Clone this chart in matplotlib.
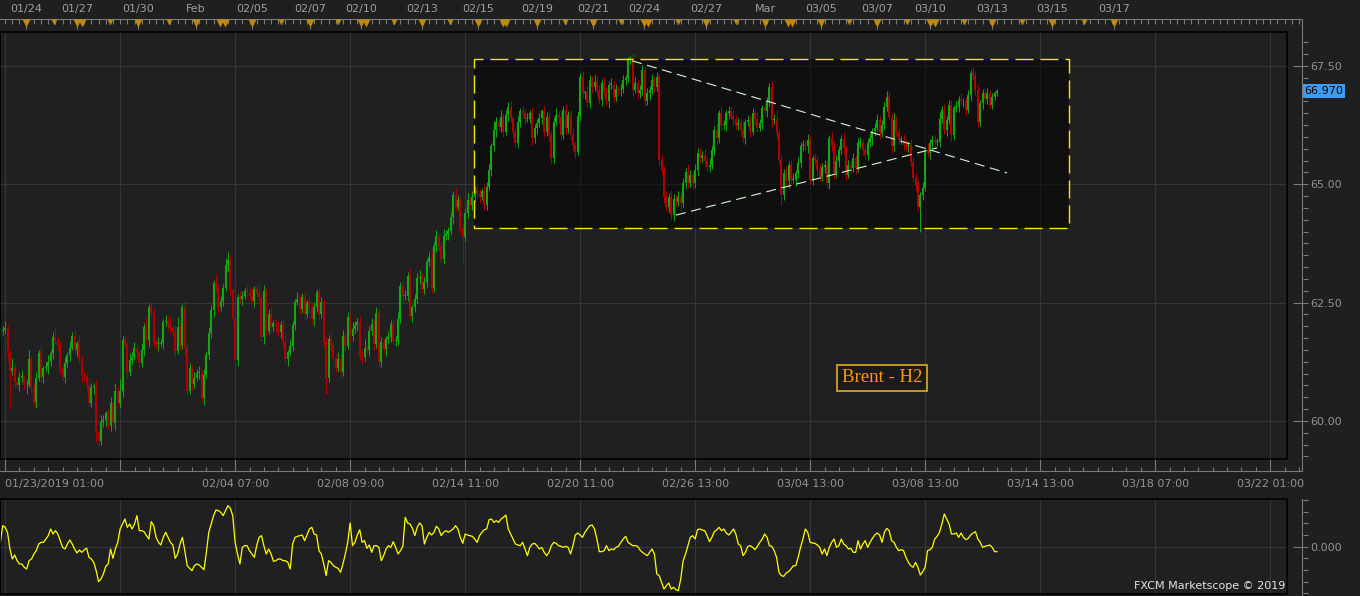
import numpy as np
import matplotlib
matplotlib.use('Agg')
import matplotlib.pyplot as plt
import matplotlib.transforms as mtransforms
from matplotlib.patches import Rectangle
from matplotlib.lines import Line2D
from matplotlib.ticker import MultipleLocator, FixedLocator

# Brent H2 candles (open = previous close)
first_open = 61.70
closes = [
    61.80, 61.91, 61.92, 61.96, 61.41, 61.06, 61.13, 60.82, 60.77, 60.92,
    60.94, 60.75, 60.77, 61.31, 60.71, 60.41, 60.91, 61.43, 60.92, 61.12,
    61.15, 61.25, 61.43, 61.78, 61.70, 61.59, 61.13, 60.92, 61.22, 61.40,
    61.55, 61.80, 61.49, 61.64, 61.31, 60.96, 60.94, 60.77, 60.39, 60.72,
    60.74, 59.76, 59.58, 59.97, 60.02, 60.16, 59.90, 60.37, 59.95, 60.63,
    60.37, 60.63, 61.71, 61.61, 61.03, 61.29, 61.36, 61.55, 61.43, 61.22,
    61.50, 61.99, 61.71, 62.41, 62.29, 61.64, 61.63, 61.63, 61.64, 62.10,
    62.12, 62.05, 61.96, 61.89, 61.47, 61.99, 61.61, 62.40, 61.54, 60.64,
    61.13, 60.79, 60.91, 61.01, 61.01, 60.49, 60.98, 61.40, 61.85, 62.34,
    62.91, 62.81, 62.41, 62.53, 62.82, 63.30, 63.40, 62.77, 62.18, 61.29,
    62.61, 62.58, 62.65, 62.75, 62.72, 62.65, 62.54, 62.79, 62.70, 62.61,
    61.78, 62.75, 61.91, 62.26, 61.99, 62.06, 61.98, 61.87, 62.03, 61.66,
    61.31, 61.45, 61.59, 62.03, 62.51, 62.58, 62.37, 62.63, 62.26, 62.51,
    62.40, 62.15, 62.40, 62.72, 62.26, 62.51, 61.66, 60.91, 61.73, 61.59,
    61.34, 61.13, 61.31, 61.03, 61.80, 61.59, 62.19, 61.80, 61.94, 62.03,
    62.10, 61.38, 61.36, 61.55, 61.49, 61.91, 62.05, 61.63, 62.29, 61.24,
    61.66, 61.52, 61.73, 61.77, 62.05, 61.70, 61.70, 62.15, 62.86, 62.65,
    62.65, 63.07, 62.22, 62.40, 62.58, 63.03, 63.05, 62.79, 62.93, 63.35,
    63.46, 62.82, 63.70, 63.91, 63.70, 63.42, 63.91, 63.95, 64.02,
    64.30, 64.77, 64.53, 64.67, 64.07, 63.89, 64.39, 64.67, 64.56, 64.74,
    64.88, 64.81, 64.74, 64.85, 64.56, 64.95, 65.30, 65.80, 66.15, 66.32,
    66.22, 66.43, 66.11, 66.47, 66.64, 66.40, 66.11, 65.87, 66.32, 66.54,
    66.50, 66.39, 66.39, 66.50, 65.97, 66.18, 66.29, 66.40, 66.54, 66.11,
    66.43, 66.04, 65.55, 66.32, 66.47, 66.43, 66.04, 66.57, 66.18, 66.47,
    66.04, 65.83, 65.69, 66.44, 67.27, 66.92, 66.92, 66.71, 67.20, 67.06,
    67.17, 66.99, 66.78, 67.15, 66.95, 66.75, 67.10, 67.10, 66.85, 67.01,
    66.99, 67.01, 67.20, 67.24, 67.63, 67.66, 66.99, 67.13, 66.92, 66.99,
    67.42, 66.75, 66.92, 66.99, 67.20, 67.05, 67.27, 65.51, 65.30, 64.74,
    64.53, 64.74, 64.35, 64.70, 64.63,
    64.74, 64.60, 65.02, 65.27, 65.02, 65.20, 65.02, 65.30, 65.67, 65.55,
    65.62, 65.50, 65.37, 65.41, 65.73, 66.15, 65.97, 66.50, 66.25, 66.25,
    66.50, 66.54, 66.45, 66.39, 66.25, 66.29, 66.15, 65.97, 66.32, 66.36,
    66.11, 66.50, 66.39, 66.20, 66.29, 66.61, 66.54, 66.75, 67.06, 66.36,
    66.39, 66.08, 65.51, 64.77, 65.23, 65.06, 65.41, 65.09, 65.09, 65.23,
    65.45, 65.80, 65.83, 65.80, 65.94, 65.09, 65.55, 65.51, 65.30, 65.16,
    65.37, 65.41, 65.02, 65.97, 65.80, 65.23, 65.50, 65.73, 65.95, 65.76,
    65.20, 65.41, 65.34, 65.55, 65.34, 65.87, 65.87, 65.73, 65.62, 65.87,
    65.97, 66.13, 66.20, 66.36, 66.08, 66.25, 66.64, 66.85, 66.43, 65.80,
    66.36, 66.11, 65.94,
    65.94, 65.83, 65.80, 65.83, 65.48, 65.13, 64.99, 64.53, 64.77, 64.92,
    65.73, 65.67, 65.87, 65.94, 65.90, 65.90, 66.39, 66.57, 66.15, 66.36,
    66.68, 66.04, 66.61, 66.64, 66.78, 66.75, 66.75, 66.57, 66.89, 67.35,
    67.31, 66.99, 66.32, 66.71, 66.92, 66.80, 66.92, 66.68, 66.85, 66.92,
    66.97,
]

# wick lengths above / below the body, in cents
wick_up = [
    10, 12, 8, 15, 6, 10, 20, 8, 5, 12, 14, 6, 9, 18, 7, 10, 12, 8, 16, 5,
    9, 14, 7, 11, 20, 6, 10, 8, 13, 5, 15, 9, 12, 6, 18, 8, 10, 7, 14, 9,
    6, 12, 8, 15, 10, 5, 9, 13, 7, 18, 11, 25, 8, 10, 6, 14, 9, 12, 7, 10,
    15, 8, 20, 6, 12, 9, 7, 14, 10, 5, 11, 8, 16, 6, 12, 20, 9, 7, 13, 8,
    10, 6, 12, 9, 15, 7, 11, 8, 14, 10, 6, 20, 9, 12, 8, 15, 16, 10, 7, 12,
    8, 14, 10, 6, 12, 9, 15, 7, 11, 20, 8, 12, 6, 10, 14, 7, 9, 13, 8, 10,
    18, 6, 12, 9, 7, 14, 10, 8, 12, 5, 16, 9, 11, 7, 13, 10, 6, 12, 8, 15,
    9, 7, 14, 10, 12, 6, 11, 8, 15, 9, 7, 12, 10, 18, 6, 9, 13, 8, 11, 7,
    12, 10, 6, 14, 8, 11, 9, 15, 7, 10, 12, 8, 16, 6, 10, 9, 13, 7, 12, 8,
    10, 15, 8, 12, 6, 10, 14, 9, 7, 12, 8, 15, 10, 6, 12, 9, 14, 7, 11, 8,
    13, 10, 7, 15, 9, 12, 8, 18, 10, 6, 14, 8, 11, 9, 12, 7, 10, 13, 8, 11,
    9, 12, 7, 14, 10, 8, 11, 6, 13, 9, 12, 8, 10, 15, 7, 11, 9, 12, 8, 10,
    14, 8, 11, 9, 12, 7, 15, 10, 8, 13, 9, 11, 7, 12, 10, 8, 14, 9, 11, 7,
    10, 12, 8, 6, 5, 9, 14, 8, 11, 10, 7, 12, 9, 13, 8, 10, 6, 11, 9, 12,
    8, 14, 10, 7, 12, 9, 11, 8, 15, 10, 7, 13, 9, 11, 8, 12, 10, 14, 7, 9,
    12, 8, 15, 10, 7, 11, 9, 13, 8, 12, 10, 18, 7, 11, 9, 12, 8, 14, 10, 7,
    11, 9, 8, 12, 10, 15, 7, 11, 9, 13, 8, 10, 14, 7, 12, 9, 11, 8, 13, 10,
    7, 12, 9, 14, 8, 11, 10, 7, 13, 9, 12, 8, 10, 15, 7, 11, 9, 12, 8, 10,
    14, 8, 11, 9, 12, 7, 10, 13, 8, 11, 9, 12, 10, 7, 14, 8, 11, 9, 12, 10,
    8, 13, 9, 11, 10, 7, 12, 9, 14, 8, 11, 10, 7, 13, 9, 12, 8, 10, 11, 7,
    12, 9, 14, 8, 10, 11, 7, 13, 9, 12, 8, 10, 9, 11, 7, 8, 6, 5,
]
wick_dn = [
    12, 8, 10, 6, 15, 80, 9, 12, 7, 14, 10, 8, 18, 6, 11, 9, 13, 7, 10, 12,
    8, 15, 9, 12, 7, 10, 14, 8, 11, 9, 13, 6, 10, 12, 8, 16, 9, 11, 7, 10,
    14, 20, 12, 8, 10, 13, 7, 11, 9, 15, 8, 10, 12, 6, 14, 9, 11, 8, 13, 10,
    7, 12, 9, 14, 10, 8, 11, 15, 7, 12, 9, 10, 13, 8, 11, 6, 14, 9, 12, 10,
    8, 13, 10, 7, 12, 9, 15, 8, 11, 10, 14, 7, 12, 9, 10, 8, 13, 11, 7, 10,
    12, 9, 14, 8, 11, 10, 7, 13, 9, 12, 8, 15, 10, 7, 11, 9, 13, 8, 12, 10,
    9, 14, 8, 11, 10, 7, 12, 9, 13, 8, 11, 10, 15, 7, 12, 9, 10, 34, 8, 11,
    10, 12, 8, 14, 9, 11, 7, 13, 10, 8, 12, 9, 15, 10, 7, 11, 9, 13, 8, 12,
    10, 8, 14, 9, 11, 7, 12, 10, 8, 13, 9, 11, 7, 12, 10, 8, 14, 9, 11, 10,
    8, 12, 9, 13, 10, 7, 11, 9, 12, 8, 14, 10, 7, 12, 55, 9, 11, 8, 10, 12,
    9, 13, 8, 11, 10, 7, 12, 9, 14, 8, 11, 10, 7, 13, 9, 12, 8, 10, 11, 9,
    12, 8, 10, 14, 9, 11, 7, 13, 10, 8, 12, 9, 11, 7, 14, 10, 8, 12, 9, 11,
    10, 13, 8, 11, 9, 12, 7, 10, 14, 8, 11, 9, 12, 10, 7, 13, 9, 11, 8, 10,
    12, 9, 11, 8, 10, 13, 7, 12, 9, 11, 10, 8, 14, 9, 11, 7, 12, 10, 13, 9,
    11, 8, 12, 10, 9, 14, 7, 11, 10, 8, 12, 9, 13, 10, 7, 11, 9, 12, 8, 10,
    13, 9, 11, 8, 12, 10, 7, 14, 9, 11, 10, 8, 12, 9, 11, 7, 13, 10, 8, 12,
    9, 11, 10, 14, 8, 12, 9, 20, 11, 8, 13, 10, 7, 12, 9, 11, 10, 8, 14, 9,
    11, 8, 12, 10, 9, 13, 7, 11, 10, 12, 8, 14, 9, 11, 10, 7, 12, 9, 13, 8,
    10, 12, 9, 11, 8, 14, 10, 7, 12, 9, 11, 10, 8, 13, 9, 12, 10, 8, 11, 9,
    12, 10, 8, 13, 10, 53, 11, 7, 10, 14, 8, 12, 9, 11, 10, 8, 13, 9, 12, 10,
    9, 11, 8, 12, 10, 7, 13, 9, 11, 10, 8, 12, 9, 10, 7, 8, 6, 5,
]

# lower panel oscillator
osc = [
    0.13, 0.13, 0.63, 0.58, 0.43, -0.07, -0.37, -0.25, -0.42, -0.52,
    -0.52, -0.62, -0.67, -0.42, -0.37, -0.22, -0.12, 0.08, 0.13, 0.13,
    0.23, 0.33, 0.53, 0.38, 0.48, 0.38, 0.18, -0.02, -0.07, 0.08,
    0.20, 0.08, -0.07, -0.19, -0.10, -0.17, -0.10, -0.04, -0.32, -0.37,
    -0.47, -0.72, -1.05, -0.97, -0.82, -0.59, -0.52, -0.07, -0.35, -0.07,
    0.13, 0.53, 0.68, 0.83, 0.58, 0.68, 0.53, 0.68, 0.93, 0.48,
    0.48, 0.45, 0.33, 0.23, 0.75, 0.63, 0.28, 0.13, 0.05, 0.28,
    0.43, 0.28, 0.13, 0.05, -0.35, -0.22, 0.08, 0.28, -0.12, -0.57,
    -0.65, -0.72, -0.57, -0.52, -0.55, -0.62, -0.69, -0.17, 0.43, 0.68,
    0.93, 1.10, 1.08, 1.03, 0.93, 1.08, 1.23, 1.15, 0.93, 0.13,
    -0.22, -0.52, -0.02, 0.03, 0.03, -0.12, -0.22, -0.32, 0.03, 0.28,
    0.33, 0.03, -0.22, -0.07, -0.22, -0.44, -0.42, -0.37, -0.37, -0.42,
    -0.42, -0.47, -0.67, 0.08, 0.28, 0.31, 0.33, 0.35, 0.18, 0.35,
    0.53, 0.58, 0.38, 0.35, -0.12, -0.22, -0.52, -0.87, -0.42, -0.47,
    -0.57, -0.62, -0.65, -0.77, -0.52, -0.22, 0.13, 0.71, 0.03, 0.13,
    0.35, 0.51, 0.13, 0.18, -0.05, 0.05, -0.17, 0.03, 0.03, -0.02,
    -0.42, -0.27, -0.07, 0.03, -0.02, 0.15, -0.02, -0.22, -0.12, 0.01,
    0.88, 0.71, 0.68, 0.55, 0.33, 0.58, 0.71, 0.63, 0.08, 0.28,
    0.43, 0.35, 0.43, 0.61, 0.53, 0.33, 0.43, 0.48, 0.43, 0.48,
    0.53, 0.63, 0.53, 0.28, 0.10, 0.38, 0.35, 0.33, 0.31, 0.23,
    0.13, 0.33, 0.43, 0.51, 0.53, 0.81, 0.83, 0.73,
    0.78, 0.73, 0.83, 0.88, 0.95, 0.53, 0.38, 0.23, 0.08, 0.05,
    0.03, 0.13, -0.07, -0.27, -0.02, 0.08, 0.10, 0.03, -0.07, -0.02,
    -0.17, -0.27, -0.17, 0.03, 0.13, 0.10, 0.03, 0.01, -0.02, 0.01,
    -0.02, -0.22, 0.03, 0.35, 0.41, 0.35, 0.28, 0.43, 0.53, 0.63,
    0.65, 0.53, 0.23, -0.15, -0.15, -0.12, 0.03, -0.12, -0.07, -0.09,
    -0.02, 0.01, 0.13, 0.23, 0.31, 0.13, 0.08, 0.03, 0.03, 0.01,
    -0.10, -0.17, -0.22, -0.27, -0.17, -0.07, -0.22, -0.82, -0.87, -1.07,
    -1.27, -1.17, -1.09, -1.27, -1.22, -1.29, -1.32, -0.97, -0.42, -0.22,
    0.03, 0.28, 0.33, 0.23, 0.51, 0.53, 0.50, 0.48, 0.33, 0.15,
    0.28, 0.45, 0.50, 0.58, 0.48, 0.53, 0.41, 0.35, 0.43, 0.53,
    0.38, 0.08, 0.03, -0.27, -0.17, 0.01, 0.03, -0.02, -0.09, 0.01,
    0.13, 0.23, 0.38, 0.28, 0.03, 0.01, -0.12, -0.32, -0.77, -0.87,
    -0.89, -0.79, -0.75, -0.67, -0.57, -0.57, -0.32, -0.02, 0.23, 0.53,
    0.43, 0.13, 0.11, 0.10, 0.05, -0.02, -0.22, -0.07, -0.27, -0.02,
    0.13, 0.23, -0.02, 0.03, 0.23, 0.08, 0.03, -0.07, -0.05, -0.17,
    -0.17, 0.18, -0.07, 0.08, 0.18, -0.02, 0.13, 0.25, 0.35, 0.41,
    0.35, 0.13, 0.43, 0.55, 0.48, 0.18, 0.13, -0.02, -0.12, -0.09,
    -0.12, -0.32, -0.47, -0.57, -0.62, -0.47, -0.62, -0.85, -0.75, -0.62,
    -0.12, -0.09, -0.02, 0.23, 0.31, 0.43, 0.68, 0.98, 0.83, 0.68,
    0.38, 0.38, 0.41, 0.28, 0.41, 0.28, 0.21, 0.25, 0.35, 0.41,
    0.45, 0.23, 0.13, -0.02, 0.01, 0.03, 0.05, -0.02, -0.15, -0.15,
]

# axis labels
bottom_labels = ['01/23/2019 01:00', '', '02/04 07:00', '02/08 09:00', '02/14 11:00',
                 '02/20 11:00', '02/26 13:00', '03/04 13:00', '03/08 13:00',
                 '03/14 13:00', '03/18 07:00', '03/22 01:00']
top_labels = ['01/24', '01/27', '01/30', 'Feb', '02/05', '02/07', '02/10', '02/13',
              '02/15', '02/19', '02/21', '02/24', '02/27', 'Mar', '03/05', '03/07',
              '03/10', '03/13', '03/15', '03/17']
top_label_bars = [11.8, 33.0, 58.5, 82.7, 106.1, 130.3, 151.6, 177.0, 200.4, 225.0,
                  248.4, 269.7, 295.6, 320.2, 343.6, 366.9, 389.1, 414.9, 440.0, 465.8]
big_marks = [11.8, 33.0, 35.1, 58.5, 82.7, 92.7, 94.8, 106.1, 130.3, 151.6, 153.7,
             177.0, 200.4, 210.8, 212.1, 225.0, 248.4, 269.7, 271.4, 295.6, 320.2,
             329.8, 331.5, 343.6, 366.9, 389.1, 391.1, 414.9, 440.0, 465.8]
small_marks = [23.4, 46.8, 71.4, 118.2, 142.0, 165.3, 188.7, 236.7, 260.1, 283.9,
               308.1, 355.3, 379.5, 403.2, 427.4, 453.3]

# drawn objects: rectangle zone and triangle lines (bar index, price)
zone = (198.7, 447.1, 64.08, 67.65)
upper_trend = ([264.7, 421.2], [67.61, 65.24])
lower_trend = ([283.0, 392.0], [64.35, 65.77])

BG = '#1f1f1f'
PLOT_BG = '#202020'
GRID = '#363636'
AXC = '#7a7a7a'
TXT = '#939393'
GREEN = '#12a812'
RED = '#b00000'
GOLD = '#c08a10'

W, H = 1360, 596


def px_rect(x0, y0, x1, y1):
    return [x0 / W, 1 - y1 / H, (x1 - x0) / W, (y1 - y0) / H]


fig = plt.figure(figsize=(W / 100, H / 100), dpi=100, facecolor=BG)

n = len(closes)
ppb = 115 / 48
x_left = (n - 1) - 997 / ppb
grid_bars = 3 + 48 * np.arange(12)

# ---- price panel
ax = fig.add_axes(px_rect(0, 32, 1287, 459))
ax.set_facecolor(PLOT_BG)
ax.set_xlim(x_left, x_left + 1287 / ppb)
ax.set_ylim(59.197, 68.218)
for gx in grid_bars:
    ax.axvline(gx, color=GRID, lw=0.8, zorder=0)
for gy in [60, 62.5, 65, 67.5]:
    ax.axhline(gy, color=GRID, lw=0.8, zorder=0)

x = np.arange(n)
c = np.array(closes)
o = np.r_[first_open, c[:-1]]
body_lo = np.minimum(o, c)
body_hi = np.maximum(np.maximum(o, c), body_lo + 0.02)
hi = np.maximum(o, c) + np.array(wick_up) / 100
lo = body_lo - np.array(wick_dn) / 100
cols = np.where(c >= o, GREEN, RED)
ax.vlines(x, lo, hi, colors=cols, lw=0.7, zorder=3)
ax.vlines(x, body_lo, body_hi, colors=cols, lw=1.5, zorder=4)

ax.add_patch(Rectangle((zone[0], zone[2]), zone[1] - zone[0], zone[3] - zone[2],
                       fc='black', alpha=0.5, ec='none', zorder=1))
ax.add_patch(Rectangle((zone[0], zone[2]), zone[1] - zone[0], zone[3] - zone[2],
                       fill=False, ec='#f5e800', lw=1.0, ls=(0, (13, 5)), zorder=5))
ax.plot(*upper_trend, color='#d8f5d8', lw=0.8, dashes=(9, 5), zorder=6)
ax.plot(*lower_trend, color='#d8f5d8', lw=0.8, dashes=(9, 5), zorder=6)

ax.text(0.6853, 0.1897, 'Brent - H2', transform=ax.transAxes, ha='center', va='center',
        fontsize=13.5, family='Liberation Serif', color='#ff9a00', zorder=7,
        bbox=dict(boxstyle='square,pad=0.25', fc='#1a1a1a', ec='#e0b020', lw=1.2))

ax.set_xticks([])
ax.yaxis.tick_right()
ax.set_yticks([60, 62.5, 65, 67.5])
ax.set_yticklabels(['60.00', '62.50', '65.00', '67.50'])
ax.yaxis.set_minor_locator(MultipleLocator(0.25))
ax.spines['right'].set_position(('outward', 15))
ax.tick_params(axis='y', which='major', direction='in', length=10.8, width=0.8,
               color=AXC, labelcolor=TXT, labelsize=8, pad=2)
ax.tick_params(axis='y', which='minor', direction='in', length=3.6, width=0.8, color=AXC)
for s in ax.spines.values():
    s.set_visible(False)
ax.add_patch(Rectangle((0, 0), 1, 1, transform=ax.transAxes, fill=False, ec='black',
                       lw=1.2, clip_on=False, zorder=8))

last_tr = mtransforms.blended_transform_factory(ax.transAxes, ax.transData)
ax.text(1.0132, closes[-1], f'{closes[-1]:.3f}', transform=last_tr, ha='left', va='center',
        fontsize=8, color='black', clip_on=False,
        bbox=dict(boxstyle='square,pad=0.15', fc='#3d9cf0', ec='none'))

# ---- bottom time axis
bax = fig.add_axes(px_rect(0, 459, 1302, 471))
bax.set_facecolor('none')
bax.set_xlim(x_left, x_left + 1302 / ppb)
bax.set_yticks([])
for k in ['top', 'left', 'right']:
    bax.spines[k].set_visible(False)
bax.spines['bottom'].set_color(AXC)
bax.spines['bottom'].set_linewidth(0.8)
bax.set_xticks(grid_bars)
bax.set_xticklabels(bottom_labels)
bax.xaxis.set_minor_locator(MultipleLocator(6, offset=3))
bax.tick_params(axis='x', which='major', direction='in', length=8.6, width=0.8,
                color=AXC, labelcolor=TXT, labelsize=8, pad=6)
bax.tick_params(axis='x', which='minor', direction='in', length=2.9, width=0.8, color=AXC)
bax.get_xticklabels()[0].set_ha('left')

# ---- top date axis
tax = fig.add_axes(px_rect(0, 19, 1302, 32))
tax.set_facecolor('none')
tax.set_xlim(x_left, x_left + 1302 / ppb)
tax.set_ylim(0, 1)
tax.set_yticks([])
for k in ['bottom', 'left', 'right']:
    tax.spines[k].set_visible(False)
tax.spines['top'].set_color(AXC)
tax.spines['top'].set_linewidth(0.8)
tax.xaxis.tick_top()
tax.xaxis.set_major_locator(FixedLocator(top_label_bars))
tax.set_xticklabels(top_labels)
tax.xaxis.set_minor_locator(MultipleLocator(3))
tax.tick_params(axis='x', which='major', direction='in', length=7.2, width=0.8,
                color=AXC, labelcolor='#9aa0a6', labelsize=8, pad=3.5)
tax.tick_params(axis='x', which='minor', direction='in', length=3.6, width=0.8, color=AXC)
tax.plot(big_marks, [0.69] * len(big_marks), 'v', ms=6.2, color=GOLD, mec='none',
         clip_on=False, zorder=5)
tax.plot(small_marks, [0.76] * len(small_marks), 'v', ms=4.6, color=GOLD, mec='none',
         clip_on=False, zorder=5)

# ---- oscillator panel
oax = fig.add_axes(px_rect(0, 499, 1287, 594))
oax.set_facecolor(PLOT_BG)
oax.set_xlim(x_left, x_left + 1287 / ppb)
oax.set_ylim(-1.42, 1.43)
for gx in grid_bars:
    oax.axvline(gx, color=GRID, lw=0.8, zorder=0)
oax.axhline(0, color=GRID, lw=0.8, zorder=0)
oax.plot(np.arange(len(osc)), osc, color='#ffff00', lw=0.9, zorder=3)
oax.set_xticks([])
oax.yaxis.tick_right()
oax.set_yticks([0])
oax.set_yticklabels(['0.000'])
oax.yaxis.set_minor_locator(MultipleLocator(0.35))
oax.spines['right'].set_position(('outward', 15))
oax.tick_params(axis='y', which='major', direction='in', length=10.8, width=0.8,
                color=AXC, labelcolor=TXT, labelsize=8, pad=2)
oax.tick_params(axis='y', which='minor', direction='in', length=3.6, width=0.8, color=AXC)
for s in oax.spines.values():
    s.set_visible(False)
oax.add_patch(Rectangle((0, 0), 1, 1, transform=oax.transAxes, fill=False, ec='black',
                        lw=1.2, clip_on=False, zorder=8))
oax.text(0.999, 0.03, 'FXCM Marketscope \u00a9 2019', transform=oax.transAxes,
         ha='right', va='bottom', fontsize=8, color='#e4e4e4', zorder=9)

# right-hand scale lines
fig.add_artist(Line2D([1302 / W, 1302 / W], [1 - 19 / H, 1 - 471 / H], color=AXC, lw=0.8))
fig.add_artist(Line2D([1302 / W, 1302 / W], [1 - 499 / H, 0], color=AXC, lw=0.8))

fig.savefig('out.png', dpi=100, facecolor=BG)
